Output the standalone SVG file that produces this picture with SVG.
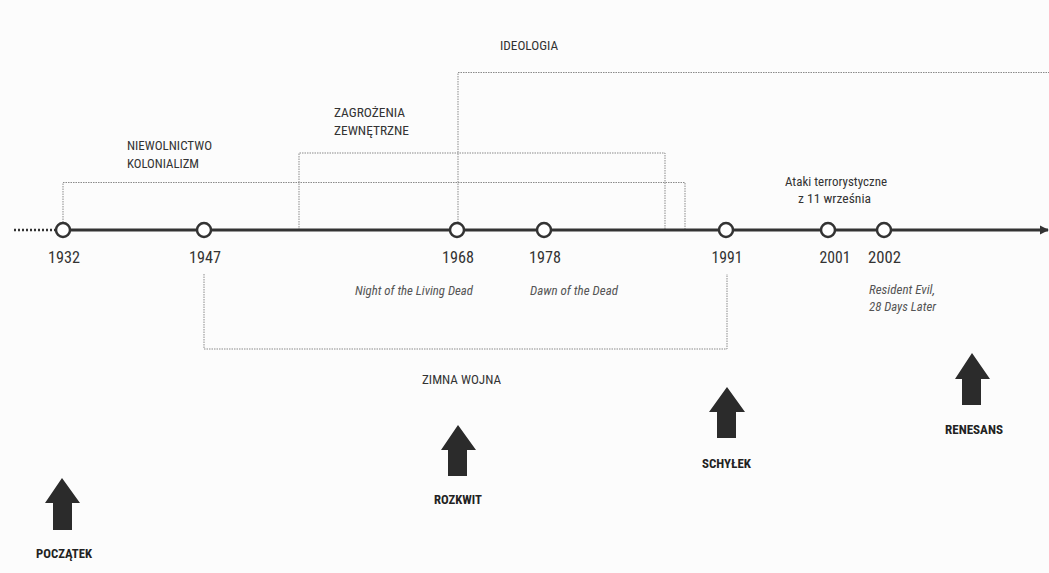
<svg xmlns="http://www.w3.org/2000/svg" width="1049" height="573" viewBox="0 0 1049 573">
<style>
text{font-family:"Roboto Condensed",Roboto,"Liberation Sans",sans-serif;fill:#333}
.yr{font-size:17px;text-anchor:middle}
.lbl{font-size:13px}
.it{font-size:13px;font-style:italic;fill:#555}
.era{font-size:13px;font-weight:bold;fill:#222}
.box{fill:none;stroke:#8a8a8a;stroke-width:1;stroke-dasharray:1.5 1}
.node{fill:#fff;stroke:#333;stroke-width:2.5}
.arr{fill:#2b2b2b}
</style>
<defs>
<marker id="ah" viewBox="0 0 10 10" refX="9" refY="5" markerWidth="9" markerHeight="13" markerUnits="userSpaceOnUse" orient="auto">
<path d="M0,0 L10,5 L0,10 z" fill="#333"/>
</marker>
</defs>
<rect width="1049" height="573" fill="#fcfcfc"/>
<g id="connectors">
<path class="box" d="M63,230 V182.5 H685 V230"/>
<path class="box" d="M299,230 V153 H665 V230"/>
<path class="box" d="M458,230 V72.5 H1049"/>
<path class="box" d="M204,274 V349 H727 V274"/>
<line x1="14" y1="230" x2="56" y2="230" stroke="#333" stroke-width="2.5" stroke-dasharray="2 2"/>
<line x1="63" y1="230" x2="1048" y2="230" stroke="#333" stroke-width="3" marker-end="url(#ah)"/>
</g>
<g id="n1932"><circle class="node" cx="63" cy="230" r="7"/><text class="yr" x="64" y="263" textLength="32" lengthAdjust="spacingAndGlyphs">1932</text></g>
<g id="n1947"><circle class="node" cx="204" cy="230" r="7"/><text class="yr" x="205" y="263" textLength="32" lengthAdjust="spacingAndGlyphs">1947</text></g>
<g id="n1968"><circle class="node" cx="457" cy="230" r="7"/><text class="yr" x="458" y="263" textLength="32" lengthAdjust="spacingAndGlyphs">1968</text></g>
<g id="n1978"><circle class="node" cx="544" cy="230" r="7"/><text class="yr" x="545" y="263" textLength="32" lengthAdjust="spacingAndGlyphs">1978</text></g>
<g id="n1991"><circle class="node" cx="726" cy="230" r="7"/><text class="yr" x="727" y="263" textLength="31" lengthAdjust="spacingAndGlyphs">1991</text></g>
<g id="n2001"><circle class="node" cx="828" cy="230" r="7"/><text class="yr" x="835" y="263" textLength="31" lengthAdjust="spacingAndGlyphs">2001</text></g>
<g id="n2002"><circle class="node" cx="884" cy="230" r="7"/><text class="yr" x="884.5" y="263" textLength="33" lengthAdjust="spacingAndGlyphs">2002</text></g>
<g id="ideologia"><text class="lbl" x="500" y="50" textLength="58" lengthAdjust="spacingAndGlyphs">IDEOLOGIA</text></g>
<g id="zagrozenia"><text class="lbl" x="334" y="117" textLength="71" lengthAdjust="spacingAndGlyphs">ZAGROŻENIA</text><text class="lbl" x="334" y="135" textLength="75" lengthAdjust="spacingAndGlyphs">ZEWNĘTRZNE</text></g>
<g id="niewolnictwo"><text class="lbl" x="127" y="150" textLength="85" lengthAdjust="spacingAndGlyphs">NIEWOLNICTWO</text><text class="lbl" x="127" y="168" textLength="72" lengthAdjust="spacingAndGlyphs">KOLONIALIZM</text></g>
<g id="ataki"><text class="lbl" x="785" y="186" textLength="102" lengthAdjust="spacingAndGlyphs">Ataki terrorystyczne</text><text class="lbl" x="798" y="203" textLength="73" lengthAdjust="spacingAndGlyphs">z 11 września</text></g>
<g id="night"><text class="it" x="355" y="295" textLength="118" lengthAdjust="spacingAndGlyphs">Night of the Living Dead</text></g>
<g id="dawn"><text class="it" x="530" y="295" textLength="88" lengthAdjust="spacingAndGlyphs">Dawn of the Dead</text></g>
<g id="resident"><text class="it" x="869" y="294" textLength="66" lengthAdjust="spacingAndGlyphs">Resident Evil,</text><text class="it" x="869" y="311" textLength="67" lengthAdjust="spacingAndGlyphs">28 Days Later</text></g>
<g id="zimna"><text class="lbl" x="422" y="384" textLength="79" lengthAdjust="spacingAndGlyphs">ZIMNA WOJNA</text></g>
<g id="poczatek"><path class="arr" d="M62,478 L80,503 L72,503 L72,530 L53,530 L53,503 L45,503 Z"/><text class="era" x="36" y="558" textLength="56" lengthAdjust="spacingAndGlyphs">POCZĄTEK</text></g>
<g id="rozkwit"><path class="arr" d="M458,425 L476,450 L467,450 L467,476 L448,476 L448,450 L441,450 Z"/><text class="era" x="434" y="504" textLength="48" lengthAdjust="spacingAndGlyphs">ROZKWIT</text></g>
<g id="schylek"><path class="arr" d="M727,387 L745,412 L736,412 L736,438 L717,438 L717,412 L709,412 Z"/><text class="era" x="702" y="468" textLength="49" lengthAdjust="spacingAndGlyphs">SCHYŁEK</text></g>
<g id="renesans"><path class="arr" d="M972,353 L990,379 L981,379 L981,405 L962,405 L962,379 L955,379 Z"/><text class="era" x="945" y="434" textLength="58" lengthAdjust="spacingAndGlyphs">RENESANS</text></g>
</svg>
